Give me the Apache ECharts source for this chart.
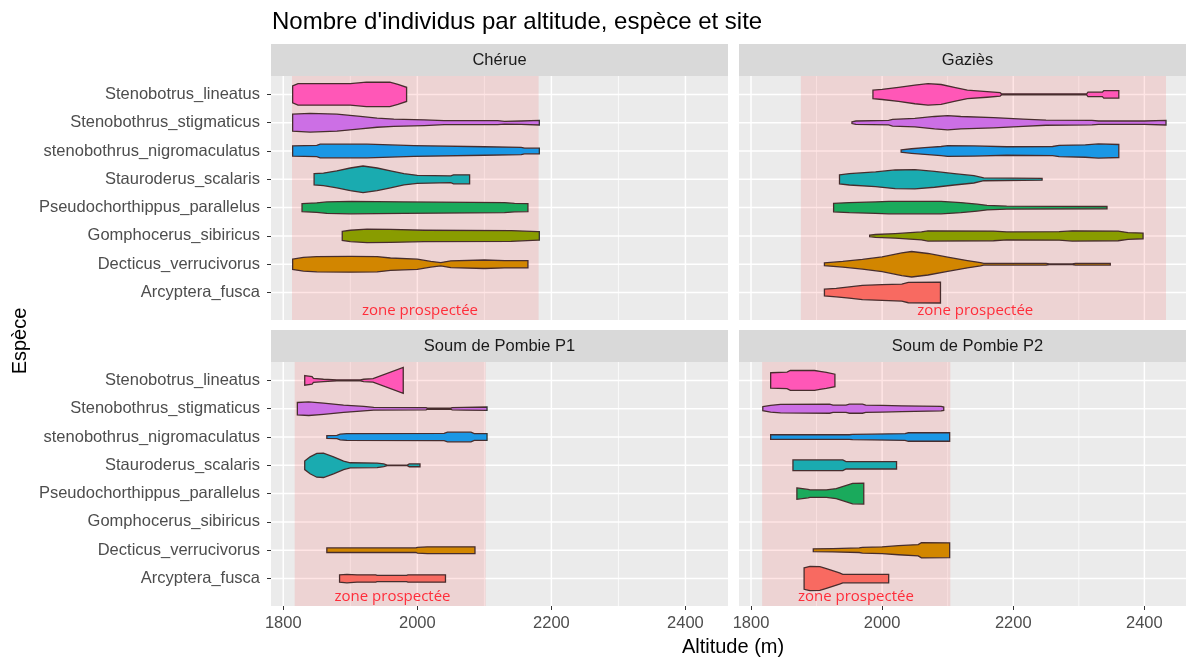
<!DOCTYPE html>
<html><head><meta charset="utf-8">
<script src="https://cdn.jsdelivr.net/npm/echarts@6/dist/echarts.min.js"></script>
<style>html,body{margin:0;padding:0;background:#fff}#c{width:1186px;height:658px}</style>
</head><body><div id="c"></div><script>
// species at y = 1..8 (bottom to top)
const species = ['Arcyptera_fusca','Decticus_verrucivorus','Gomphocerus_sibiricus','Pseudochorthippus_parallelus','Stauroderus_scalaris','stenobothrus_nigromaculatus','Stenobothrus_stigmaticus','Stenobotrus_lineatus'];
const speciesColors = ['#F8766D','#CD9600','#7CAE00','#00BE67','#00BFC4','#00A9FF','#C77CFF','#FF61CC'];
const sites = ['Chérue','Gaziès','Soum de Pombie P1','Soum de Pombie P2'];
const xTicks = [1800,2000,2200,2400];
const xMinorTicks = [1900,2100,2300];
const yTicks = [1,2,3,4,5,6,7,8];
const zoneStart = [1813,1876,1817,1817];
const zoneEnd = [2181,2433,2102,2104];
const zoneLabelX = [2004,2142,1963,1960];
const zoneLabelY = 0.36;
const zoneLabel = 'zone prospectée';

// violin profiles: [altitude, half-width (category units)], order = species
const cherueProfiles = [
  null,
  [[1814,0.18],[1830,0.24],[1850,0.27],[1900,0.28],[1940,0.27],[1960,0.22],[2000,0.18],[2020,0.1],[2035,0.06],[2050,0.12],[2100,0.15],[2130,0.13],[2165,0.13]],
  [[1888,0.16],[1900,0.2],[1925,0.24],[1960,0.23],[2010,0.2],[2140,0.19],[2180,0.15],[2182,0.15]],
  [[1828,0.14],[1850,0.17],[1865,0.2],[1900,0.22],[1980,0.2],[2130,0.18],[2145,0.15],[2165,0.14]],
  [[1846,0.2],[1860,0.22],[1880,0.3],[1900,0.4],[1919,0.47],[1940,0.4],[1960,0.3],[1980,0.2],[2000,0.14],[2050,0.12],[2054,0.16],[2078,0.16]],
  [[1814,0.18],[1850,0.2],[1855,0.24],[1925,0.24],[1995,0.19],[2100,0.15],[2155,0.13],[2160,0.1],[2182,0.1]],
  [[1814,0.3],[1840,0.33],[1880,0.3],[1915,0.22],[1940,0.16],[1965,0.13],[2010,0.1],[2040,0.07],[2120,0.07],[2130,0.05],[2155,0.06],[2182,0.08]],
  [[1814,0.3],[1822,0.38],[1900,0.38],[1924,0.43],[1959,0.43],[1971,0.35],[1984,0.25]]
];
const gaziesProfiles = [
  [[1912,0.12],[1930,0.15],[1950,0.2],[1970,0.25],[2000,0.28],[2030,0.3],[2040,0.36],[2089,0.37]],
  [[1912,0.05],[1940,0.1],[1970,0.17],[2000,0.26],[2030,0.4],[2045,0.45],[2070,0.38],[2100,0.25],[2130,0.13],[2150,0.06],[2155,0.03],[2250,0.03],[2255,0.01],[2290,0.01],[2295,0.03],[2348,0.03]],
  [[1981,0.03],[1990,0.05],[2020,0.08],[2060,0.14],[2070,0.18],[2170,0.17],[2190,0.14],[2270,0.15],[2290,0.18],[2360,0.17],[2375,0.12],[2398,0.1]],
  [[1926,0.15],[1950,0.18],[1990,0.2],[2010,0.22],[2090,0.22],[2120,0.18],[2145,0.12],[2160,0.08],[2190,0.05],[2343,0.04]],
  [[1935,0.16],[1950,0.2],[1990,0.26],[2020,0.33],[2050,0.34],[2080,0.28],[2110,0.2],[2140,0.13],[2155,0.05],[2244,0.03]],
  [[2029,0.04],[2045,0.08],[2065,0.12],[2090,0.16],[2100,0.19],[2140,0.18],[2190,0.15],[2260,0.16],[2270,0.2],[2310,0.22],[2330,0.25],[2361,0.23]],
  [[1954,0.03],[1960,0.06],[2010,0.08],[2016,0.12],[2050,0.15],[2080,0.22],[2100,0.25],[2120,0.22],[2170,0.18],[2215,0.13],[2250,0.09],[2320,0.08],[2330,0.06],[2400,0.06],[2433,0.08]],
  [[1986,0.15],[2000,0.18],[2025,0.25],[2050,0.33],[2070,0.38],[2090,0.35],[2110,0.25],[2130,0.15],[2160,0.1],[2180,0.06],[2182,0.02],[2312,0.02],[2314,0.08],[2336,0.08],[2338,0.13],[2361,0.13]]
];
const pombieP1Profiles = [
  [[1884,0.13],[1895,0.15],[1910,0.13],[1938,0.13],[1940,0.11],[1984,0.11],[1986,0.13],[2042,0.13]],
  [[1865,0.08],[1998,0.08],[2000,0.1],[2015,0.12],[2086,0.12]],
  null,
  null,
  [[1832,0.15],[1840,0.3],[1850,0.42],[1860,0.43],[1875,0.3],[1890,0.15],[1900,0.09],[1940,0.08],[1950,0.05],[1955,0.01],[1985,0.01],[1988,0.05],[2004,0.05]],
  [[1865,0.05],[1880,0.06],[1885,0.1],[1895,0.12],[2040,0.13],[2045,0.17],[2080,0.17],[2085,0.12],[2104,0.12]],
  [[1821,0.22],[1838,0.24],[1860,0.2],[1890,0.13],[1920,0.08],[1935,0.05],[2013,0.04],[2015,0.02],[2050,0.02],[2052,0.04],[2070,0.05],[2104,0.06]],
  [[1832,0.17],[1843,0.13],[1845,0.07],[1860,0.04],[1880,0.02],[1915,0.02],[1920,0.04],[1934,0.06],[1979,0.46]]
];
const pombieP2Profiles = [
  [[1881,0.38],[1890,0.43],[1905,0.42],[1915,0.35],[1935,0.2],[1940,0.15],[2010,0.15]],
  [[1895,0.05],[1925,0.06],[1965,0.08],[1970,0.1],[2000,0.12],[2025,0.16],[2055,0.2],[2060,0.27],[2103,0.26]],
  null,
  [[1870,0.2],[1887,0.15],[1890,0.13],[1915,0.13],[1930,0.18],[1955,0.36],[1972,0.37]],
  [[1864,0.19],[1940,0.19],[1945,0.13],[2022,0.13]],
  [[1830,0.08],[1950,0.08],[1955,0.09],[1985,0.1],[2035,0.12],[2040,0.15],[2103,0.15]],
  [[1818,0.07],[1830,0.12],[1845,0.15],[1920,0.16],[1925,0.13],[1945,0.13],[1950,0.16],[1970,0.16],[1975,0.13],[2000,0.12],[2030,0.1],[2090,0.08],[2094,0.06]],
  [[1830,0.27],[1855,0.29],[1860,0.35],[1897,0.35],[1905,0.32],[1915,0.28],[1928,0.22]]
];
const allProfiles = [cherueProfiles, gaziesProfiles, pombieP1Profiles, pombieP2Profiles];

const chart = echarts.init(document.getElementById('c'), null, {renderer:'canvas'});
const FONT = '"Liberation Sans", Arial, sans-serif';
const AX = 16.5;
const gridPos = [[271,76],[739,76],[271,362],[739,362]];
const GW = 457, GH = 244;
const X_MIN = 1781.7, X_MAX = 2463.5, Y_MIN = 0.03, Y_MAX = 8.65;

const grids = [], xAxes = [], yAxes = [], series = [], graphics = [];
sites.forEach((site, i) => {
  const [L, T] = gridPos[i];
  grids.push({left:L, top:T, width:GW, height:GH, show:true, backgroundColor:'#EBEBEB', borderWidth:0, containLabel:false});
  const bottomRow = i >= 2, leftCol = (i % 2) === 0;
  xAxes.push({type:'value', gridIndex:i, min:X_MIN, max:X_MAX,
    axisLine:{show:false}, splitLine:{show:false},
    axisTick:{show:bottomRow, customValues:xTicks, length:4, lineStyle:{color:'#333333', width:1}},
    axisLabel:{show:bottomRow, customValues:xTicks, color:'#4D4D4D', fontSize:AX, fontFamily:FONT, margin:9,
      formatter: v => String(Math.round(v))}
  });
  yAxes.push({type:'value', gridIndex:i, min:Y_MIN, max:Y_MAX,
    axisLine:{show:false}, splitLine:{show:false},
    axisTick:{show:leftCol, customValues:yTicks, length:4, lineStyle:{color:'#333333', width:1}},
    axisLabel:{show:leftCol, customValues:yTicks, color:'#4D4D4D', fontSize:AX, fontFamily:FONT, margin:11,
      formatter: v => species[Math.round(v)-1] || ''}
  });
  // vertical grid lines
  const vlines = xMinorTicks.map(v => [v, 0]).concat(xTicks.map(v => [v, 1]));
  series.push({type:'custom', xAxisIndex:i, yAxisIndex:i, z:1, silent:true, clip:true,
    data: vlines,
    renderItem: (params, api) => {
      const cs = params.coordSys;
      const x = api.coord([api.value(0), Y_MIN])[0];
      return {type:'line', shape:{x1:x, y1:cs.y, x2:x, y2:cs.y + cs.height},
        style:{stroke:'#FFFFFF', lineWidth: api.value(1) ? 1.5 : 0.75}};
    }
  });
  // horizontal grid lines
  series.push({type:'custom', xAxisIndex:i, yAxisIndex:i, z:1, silent:true, clip:true,
    data: yTicks.map(v => [v]),
    renderItem: (params, api) => {
      const cs = params.coordSys;
      const y = api.coord([X_MIN, api.value(0)])[1];
      return {type:'line', shape:{x1:cs.x, y1:y, x2:cs.x + cs.width, y2:y},
        style:{stroke:'#FFFFFF', lineWidth:1.5}};
    }
  });
  // violins
  const items = [];
  allProfiles[i].forEach((p, k) => { if (p) items.push({value:[k+1], prof:p, color:speciesColors[k]}); });
  series.push({type:'custom', xAxisIndex:i, yAxisIndex:i, z:2, clip:true, silent:true,
    data: items.map(d => d.value),
    renderItem: (params, api) => {
      const d = items[params.dataIndex];
      const y = api.value(0);
      const top = d.prof.map(([a,h]) => api.coord([a, y + h]));
      const bot = d.prof.slice().reverse().map(([a,h]) => api.coord([a, y - h]));
      return {type:'polygon', shape:{points: top.concat(bot)},
        style:{fill:d.color, stroke:'#333333', lineWidth:1.3, lineJoin:'miter'}};
    }
  });
  // zone overlay
  series.push({type:'custom', xAxisIndex:i, yAxisIndex:i, z:3, clip:true, silent:true,
    data:[[zoneStart[i], zoneEnd[i]]],
    renderItem: (params, api) => {
      const cs = params.coordSys;
      const x0 = api.coord([api.value(0), Y_MIN])[0];
      const x1 = api.coord([api.value(1), Y_MIN])[0];
      return {type:'rect', shape:{x:x0, y:cs.y, width:x1-x0, height:cs.height},
        style:{fill:'rgba(255,0,0,0.1)'}};
    }
  });
  // zone label
  series.push({type:'custom', xAxisIndex:i, yAxisIndex:i, z:4, silent:true,
    data:[[zoneLabelX[i], zoneLabelY]],
    renderItem: (params, api) => {
      const p = api.coord([api.value(0), api.value(1)]);
      return {type:'text', x:p[0], y:p[1], style:{text:zoneLabel, fill:'#FF2D3A', font:'15px "Open Sans", "Noto Sans", sans-serif', align:'center', verticalAlign:'middle'}};
    }
  });
  // strip
  const stripTop = i < 2 ? 44 : 330;
  graphics.push({type:'rect', left:L, top:stripTop, shape:{width:GW, height:32}, style:{fill:'#D9D9D9'}, silent:true});
  graphics.push({type:'text', x:L + GW/2, y:stripTop + 16, style:{text:site, fill:'#1A1A1A', font:AX + 'px ' + FONT, align:'center', verticalAlign:'middle'}, silent:true});
});
graphics.push({type:'text', x:272, y:22, style:{text:"Nombre d'individus par altitude, espèce et site", fill:'#000', font:'24px ' + FONT, align:'left', verticalAlign:'middle'}});
graphics.push({type:'text', x:733, y:647, style:{text:'Altitude (m)', fill:'#000', font:'20px ' + FONT, align:'center', verticalAlign:'middle'}});
graphics.push({type:'text', x:20, y:341, rotation:Math.PI/2, style:{text:'Espèce', fill:'#000', font:'20px ' + FONT, align:'center', verticalAlign:'middle'}});

chart.setOption({animation:false, backgroundColor:'#FFFFFF', grid:grids, xAxis:xAxes, yAxis:yAxes, series:series, graphic:graphics});
</script></body></html>
